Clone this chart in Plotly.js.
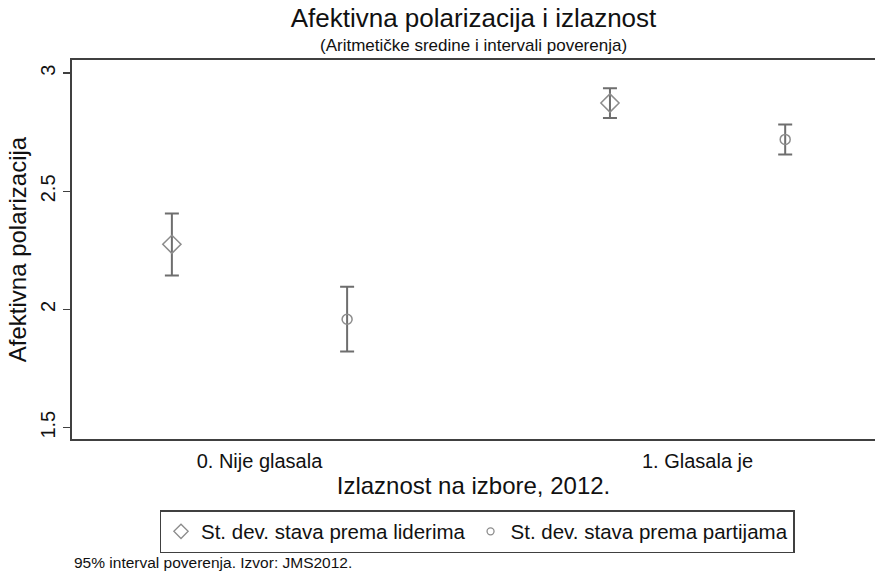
<!DOCTYPE html>
<html>
<head>
<meta charset="utf-8">
<script src="https://cdn.plot.ly/plotly-3.0.1.min.js"></script>
<style>html,body{margin:0;padding:0;background:#fff;}#chart{width:875px;height:575px;}</style>
</head>
<body>
<div id="chart"></div>
<script>
// Data
const categories = ["0. Nije glasala", "1. Glasala je"];
const seriesNames = ["St. dev. stava prema liderima", "St. dev. stava prema partijama"];
const liderMean  = [2.276, 2.874];
const liderLow   = [2.144, 2.811];
const liderHigh  = [2.406, 2.936];
const partijMean = [1.959, 2.720];
const partijLow  = [1.822, 2.656];
const partijHigh = [2.096, 2.783];
const yTicks = [1.5, 2, 2.5, 3];

const FONT = "Liberation Sans, Arial, sans-serif";
const catIdx = categories.map((c, i) => i);
const offset = 0.2;

function errTrace(name, mean, lo, hi, shift, symbol, size) {
  return {
    type: "scatter", mode: "markers", name: name, showlegend: false,
    x: catIdx.map(i => i + shift), y: mean,
    marker: {symbol: symbol, size: size, color: "#8c8c8c", line: {width: 1.5, color: "#8c8c8c"}},
    error_y: {type: "data", symmetric: false,
      array: hi.map((h, i) => h - mean[i]),
      arrayminus: lo.map((l, i) => mean[i] - l),
      color: "#6e6e6e", thickness: 2, width: 7}
  };
}
function legTrace(name, symbol, size) {
  return {type: "scatter", mode: "markers", name: name, x: [null], y: [null],
    marker: {symbol: symbol, size: size, color: "#8c8c8c", line: {width: 1.3, color: "#8c8c8c"}}};
}

const data = [
  errTrace(seriesNames[0], liderMean, liderLow, liderHigh, -offset, "diamond-open", 14),
  errTrace(seriesNames[1], partijMean, partijLow, partijHigh, offset, "circle-open", 10),
  legTrace(seriesNames[0], "diamond-open", 11),
  legTrace(seriesNames[1], "circle-open", 7)
];

const layout = {
  width: 875, height: 575,
  margin: {l: 72, r: 0, t: 60, b: 136},
  paper_bgcolor: "#fff", plot_bgcolor: "#fff",
  font: {family: FONT, color: "#111", size: 20},
  title: {text: "Afektivna polarizacija i izlaznost", font: {size: 26, color: "#111"},
    xref: "paper", x: 0.5, xanchor: "center", yref: "container", y: 1 - 18/575, yanchor: "middle"},
  xaxis: {range: [-0.428, 1.405], tickvals: catIdx, ticktext: categories, ticks: "",
    showgrid: false, zeroline: false, showline: true, mirror: true, linecolor: "#404040", linewidth: 2,
    tickfont: {size: 20}, fixedrange: true, ticklabelstandoff: 3,
    title: {text: "Izlaznost na izbore, 2012.", font: {size: 24}, standoff: 6}},
  yaxis: {range: [1.452, 3.056], tickvals: yTicks, ticktext: yTicks.map(String), ticks: "outside",
    ticklen: 7, tickwidth: 1.5, tickcolor: "#404040", tickangle: -90,
    showgrid: false, zeroline: false, showline: true, linecolor: "#404040", linewidth: 2,
    tickfont: {size: 20},
    title: {text: "Afektivna polarizacija", font: {size: 24}, standoff: 4}},
  legend: {orientation: "h", xref: "container", yref: "container", x: 477/875, xanchor: "center",
    y: 1 - 510/575, yanchor: "top", borderwidth: 1.5, bordercolor: "#404040", bgcolor: "#fff",
    font: {size: 20.5}},
  annotations: [
    {text: "(Aritmetičke sredine i intervali poverenja)", xref: "paper", yref: "paper",
     x: 0.5, y: (439 - 46)/379, xanchor: "center", yanchor: "middle", showarrow: false,
     font: {size: 17}},
    {text: "95% interval poverenja. Izvor: JMS2012.", xref: "paper", yref: "paper",
     x: 0, y: (439 - 562)/379, xanchor: "left", yanchor: "middle", showarrow: false,
     font: {size: 15.5}}
  ]
};

Plotly.newPlot("chart", data, layout, {displayModeBar: false, staticPlot: true});
</script>
</body>
</html>
